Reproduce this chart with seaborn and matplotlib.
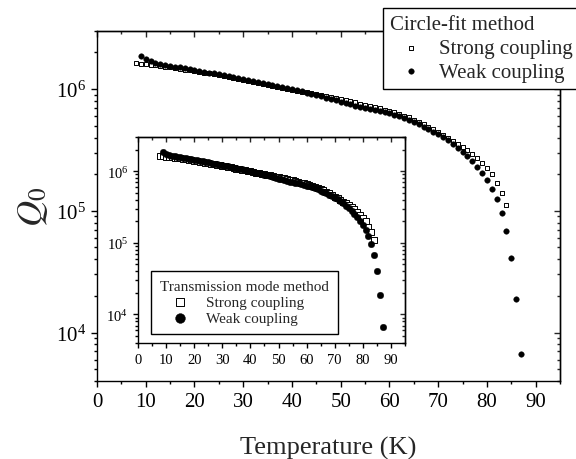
import matplotlib
matplotlib.use("Agg")
import matplotlib.pyplot as plt
from matplotlib.ticker import MultipleLocator, LogLocator, NullFormatter
import seaborn as sns
import pandas as pd

# ---------------- data ----------------
strong_t = list(range(8, 85))
strong_q = [
    1.637e6, 1.618e6, 1.600e6, 1.581e6, 1.563e6, 1.545e6, 1.528e6, 1.507e6,
    1.486e6, 1.466e6, 1.445e6, 1.426e6, 1.406e6, 1.384e6, 1.365e6, 1.343e6,
    1.321e6, 1.300e6, 1.279e6, 1.259e6, 1.236e6, 1.213e6, 1.191e6, 1.169e6,
    1.148e6, 1.127e6, 1.107e6, 1.086e6, 1.067e6, 1.047e6, 1.028e6, 1.009e6,
    9.91e5, 9.73e5, 9.55e5, 9.38e5, 9.20e5, 9.04e5, 8.87e5, 8.71e5,
    8.55e5, 8.39e5, 8.24e5, 8.09e5, 7.93e5, 7.76e5, 7.60e5, 7.45e5,
    7.28e5, 7.11e5, 6.95e5, 6.78e5, 6.61e5, 6.43e5, 6.24e5, 6.04e5,
    5.85e5, 5.62e5, 5.40e5, 5.15e5, 4.91e5, 4.66e5, 4.42e5, 4.17e5,
    3.94e5, 3.74e5, 3.55e5, 3.34e5, 3.14e5, 2.94e5, 2.70e5, 2.47e5,
    2.25e5, 2.00e5, 1.69e5, 1.40e5, 1.11e5,
]
weak_t = list(range(9, 88))
weak_q = [
    1.858e6, 1.758e6, 1.694e6, 1.648e6, 1.611e6, 1.581e6, 1.556e6, 1.531e6,
    1.507e6, 1.483e6, 1.459e6, 1.435e6, 1.413e6, 1.390e6, 1.368e6, 1.346e6,
    1.324e6, 1.300e6, 1.276e6, 1.253e6, 1.230e6, 1.208e6, 1.186e6, 1.164e6,
    1.143e6, 1.122e6, 1.102e6, 1.081e6, 1.062e6, 1.040e6, 1.019e6, 9.98e5,
    9.77e5, 9.57e5, 9.35e5, 9.14e5, 8.93e5, 8.73e5, 8.51e5, 8.30e5,
    8.09e5, 7.89e5, 7.69e5, 7.50e5, 7.31e5, 7.13e5, 7.00e5, 6.87e5,
    6.74e5, 6.61e5, 6.47e5, 6.31e5, 6.14e5, 5.96e5, 5.75e5, 5.56e5,
    5.36e5, 5.15e5, 4.92e5, 4.69e5, 4.48e5, 4.27e5, 4.04e5, 3.80e5,
    3.55e5, 3.29e5, 3.04e5, 2.80e5, 2.56e5, 2.31e5, 2.04e5, 1.78e5,
    1.51e5, 1.24e5, 9.6e4, 6.8e4, 4.06e4, 1.87e4, 6.7e3,
]
# inset (transmission mode method) reads the same as the main data
inset_strong_t, inset_strong_q = strong_t, strong_q
inset_weak_t, inset_weak_q = weak_t, weak_q

main_legend_title = "Circle-fit method"
inset_legend_title = "Transmission mode method"
labels = ["Strong coupling", "Weak coupling"]
x_label = "Temperature (K)"
y_label = r"$Q_0$"

# ---------------- style ----------------
sns.set_style("ticks")
plt.rcParams["font.family"] = ["Liberation Serif", "DejaVu Serif"]
plt.rcParams["mathtext.fontset"] = "stix"
plt.rcParams["axes.linewidth"] = 1.0

W, H = 576, 460
fig = plt.figure(figsize=(W / 100, H / 100), dpi=100)


def fx(px):
    return px / W


def fy(py):
    return 1 - py / H


def style_axes(ax, tick_fs, major_len, minor_len):
    ax.set_xlim(0, 95)
    ax.set_yscale("log")
    ax.set_ylim(4e3, 3e6)
    ax.xaxis.set_major_locator(MultipleLocator(10))
    ax.xaxis.set_minor_locator(MultipleLocator(5))
    ax.yaxis.set_major_locator(LogLocator(base=10))
    ax.yaxis.set_minor_locator(LogLocator(base=10, subs=range(2, 10)))
    ax.yaxis.set_minor_formatter(NullFormatter())
    ax.tick_params(which="both", direction="out", top=False, right=False,
                   colors="black", labelsize=tick_fs, width=1.0)
    ax.tick_params(which="major", length=major_len)
    ax.tick_params(which="minor", length=minor_len)
    for s in ax.spines.values():
        s.set_visible(True)
        s.set_color("black")
    secx = ax.secondary_xaxis("top")
    secx.xaxis.set_major_locator(MultipleLocator(10))
    secx.xaxis.set_minor_locator(MultipleLocator(5))
    secx.tick_params(which="both", direction="in", labeltop=False, width=1.0)
    secx.tick_params(which="major", length=major_len)
    secx.tick_params(which="minor", length=minor_len)
    secy = ax.secondary_yaxis("right")
    secy.yaxis.set_major_locator(LogLocator(base=10))
    secy.yaxis.set_minor_locator(LogLocator(base=10, subs=range(2, 10)))
    secy.yaxis.set_minor_formatter(NullFormatter())
    secy.tick_params(which="both", direction="in", labelright=False, width=1.0)
    secy.tick_params(which="major", length=major_len)
    secy.tick_params(which="minor", length=minor_len)
    ax.set_xlabel("")
    ax.set_ylabel("")


# ---------------- main axes ----------------
ax = fig.add_axes([fx(97), fy(382), fx(560) - fx(97), fy(32) - fy(382)])
df_s = pd.DataFrame({"T": strong_t, "Q": strong_q})
df_w = pd.DataFrame({"T": weak_t, "Q": weak_q})
sns.scatterplot(data=df_s, x="T", y="Q", ax=ax, marker="s", s=11,
                facecolor="white", edgecolor="black", linewidth=0.7,
                label=labels[0], zorder=3)
sns.scatterplot(data=df_w, x="T", y="Q", ax=ax, marker="o", s=16,
                color="black", edgecolor="black", linewidth=0.3,
                label=labels[1], zorder=3)
style_axes(ax, 15, 4.5, 2.5)
ax.set_xlabel(x_label, fontsize=19, labelpad=18)
ax.set_ylabel(y_label, fontsize=26, labelpad=4)

leg = ax.legend(title=main_legend_title, loc="upper left",
                bbox_to_anchor=(fx(383), fy(9)), bbox_transform=fig.transFigure,
                borderaxespad=0, fontsize=15, title_fontsize=15,
                frameon=True, fancybox=False, framealpha=1, edgecolor="black",
                borderpad=0.35, labelspacing=0.2, handlelength=2.0,
                handletextpad=0.35, alignment="left")
leg.get_frame().set_linewidth(1.0)

# ---------------- inset axes ----------------
axin = fig.add_axes([fx(138), fy(344), fx(405) - fx(138), fy(138) - fy(344)])
df_is = pd.DataFrame({"T": inset_strong_t, "Q": inset_strong_q})
df_iw = pd.DataFrame({"T": inset_weak_t, "Q": inset_weak_q})
sns.scatterplot(data=df_is, x="T", y="Q", ax=axin, marker="s", s=16,
                facecolor="white", edgecolor="black", linewidth=0.7,
                label=labels[0], zorder=3)
sns.scatterplot(data=df_iw, x="T", y="Q", ax=axin, marker="o", s=22,
                color="black", edgecolor="black", linewidth=0.3,
                label=labels[1], zorder=3)
style_axes(axin, 10.5, 3.5, 2.0)

leg2 = axin.legend(title=inset_legend_title, loc="upper left",
                   bbox_to_anchor=(fx(151), fy(272)), bbox_transform=fig.transFigure,
                   borderaxespad=0, fontsize=11, title_fontsize=11,
                   frameon=True, fancybox=False, framealpha=1, edgecolor="black",
                   borderpad=0.6, labelspacing=0.15, handlelength=2.6,
                   handletextpad=0.4, markerscale=1.5, alignment="left")
leg2.get_frame().set_linewidth(1.0)

fig.savefig("out.png", dpi=100)
